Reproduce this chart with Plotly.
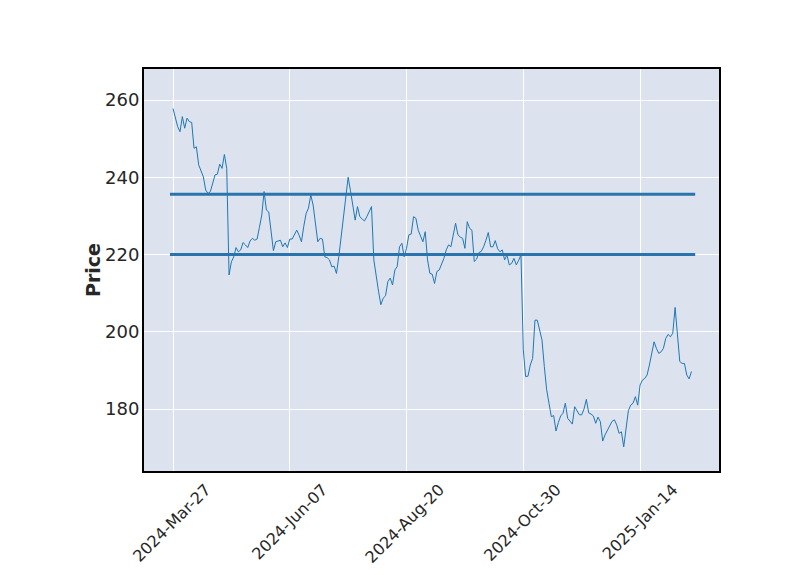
import plotly.graph_objects as go

close = [
    257.8, 255.7, 253.1, 251.8, 255.7, 252.7, 255.3, 254.4, 254.2, 247.5,
    247.9, 243.2, 241.4, 240.1, 236.7, 235.8, 236.3, 238.4, 240.6, 240.8,
    243.4, 242.3, 245.9, 242.3, 214.7, 218.1, 219.4, 221.8, 220.7, 221.2,
    223.1, 222.5, 221.8, 223.5, 224.2, 223.7, 224.0, 227.0, 230.2, 236.3,
    231.5, 231.0, 226.3, 221.0, 223.3, 223.5, 223.7, 222.0, 223.0, 221.8,
    224.0, 224.0, 225.0, 226.3, 225.0, 223.3, 227.3, 230.6, 232.0, 235.4,
    232.8, 228.0, 223.3, 224.2, 224.0, 219.4, 219.2, 218.6, 216.8, 217.0,
    215.1, 219.4, 224.5, 229.0, 234.0, 240.0, 236.5, 233.0, 228.9, 232.4,
    229.8, 229.2, 228.7, 229.8, 231.2, 232.4, 218.6, 214.0, 210.5, 207.0,
    208.7, 209.3, 213.0, 213.9, 212.1, 216.0, 216.9, 222.0, 222.9, 219.4,
    221.6, 225.1, 225.3, 229.8, 229.4, 226.3, 224.5, 223.3, 225.9, 218.6,
    215.1, 214.9, 212.5, 215.6, 216.0, 217.5, 219.0, 221.2, 222.5, 222.0,
    225.0, 228.1, 225.1, 224.5, 224.2, 221.6, 228.5, 226.8, 226.3, 218.2,
    218.8, 220.5, 220.8, 222.0, 223.7, 225.7, 222.0, 222.0, 223.6, 221.5,
    220.7, 221.2, 218.6, 219.9, 217.3, 217.7, 219.0, 217.3, 218.5, 219.9,
    195.3, 188.4, 188.5, 191.4, 193.1, 203.0, 203.0, 200.0, 197.9, 191.0,
    185.0, 181.5, 178.0, 178.3, 174.3, 176.5, 178.2, 178.9, 181.5, 177.6,
    176.7, 176.1, 180.6, 179.7, 178.5, 178.5, 180.0, 182.5, 179.0, 178.7,
    178.2, 176.3, 177.9, 176.7, 171.7, 173.3, 174.6, 175.9, 176.8, 177.2,
    175.9, 173.7, 174.1, 170.2, 175.4, 179.6, 181.0, 181.5, 183.2, 181.0,
    186.2, 187.5, 187.9, 188.8, 191.4, 194.4, 197.4, 195.7, 194.4, 194.8,
    195.7, 198.3, 199.3, 198.7, 199.6, 206.3, 199.6, 192.3, 191.8, 191.8,
    188.8, 187.8, 189.7,
]
index = list(range(len(close)))

tick_positions = [0, 50, 100, 150, 200]
tick_labels = ["2024-Mar-27", "2024-Jun-07", "2024-Aug-20", "2024-Oct-30", "2025-Jan-14"]

hline_levels = [235.6, 220.0]
hline_span = [-1.3, 223.6]

fig = go.Figure()
fig.add_trace(go.Scatter(
    x=index, y=close, mode="lines",
    line=dict(color="#1f77b4", width=1),
    showlegend=False,
))
for lvl in hline_levels:
    fig.add_trace(go.Scatter(
        x=hline_span, y=[lvl, lvl], mode="lines",
        line=dict(color="#2a74ad", width=3),
        showlegend=False, hoverinfo="skip",
    ))

fig.update_layout(
    width=800, height=575,
    margin=dict(l=144, r=81, t=69, b=104),
    paper_bgcolor="white",
    plot_bgcolor="#DCE3EF",
    font=dict(family="DejaVu Sans", size=18, color="#262626"),
    annotations=[dict(
        text="<b>Price</b>", textangle=-90,
        xref="paper", yref="paper", x=(93 - 144) / 575, y=0.5,
        xanchor="center", yanchor="middle", showarrow=False,
        font=dict(size=19, color="#262626"),
    )],
)
fig.update_xaxes(
    range=[-12.42, 233.8], automargin=False,
    tickmode="array", tickvals=tick_positions, ticktext=tick_labels,
    tickangle=-45, ticklabelshift=33, ticklabelstandoff=1,
    tickfont=dict(size=16),
    showgrid=True, gridcolor="white", gridwidth=1,
    showline=True, linecolor="black", linewidth=2, mirror=True,
    zeroline=False, ticks="",
)
fig.update_yaxes(
    range=[163.95, 268.03], automargin=False,
    tickvals=[180, 200, 220, 240, 260],
    showgrid=True, gridcolor="white", gridwidth=1,
    showline=True, linecolor="black", linewidth=2, mirror=True,
    zeroline=False, ticks="", ticklabelstandoff=-1,
)

fig.write_html("out.html")
